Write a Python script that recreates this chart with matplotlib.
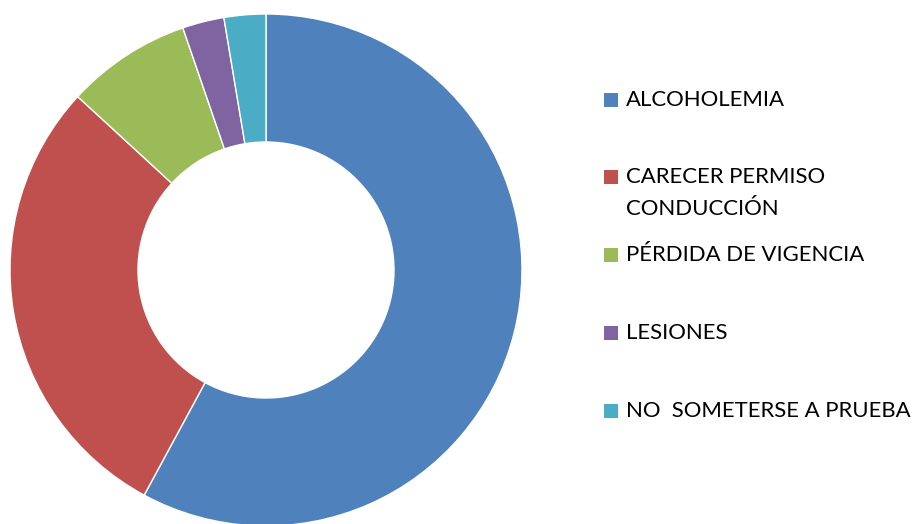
import matplotlib
matplotlib.use('Agg')
import matplotlib.pyplot as plt
from matplotlib.patches import Rectangle

categories = ['ALCOHOLEMIA', 'CARECER PERMISO\nCONDUCCIÓN', 'PÉRDIDA DE VIGENCIA',
              'LESIONES', 'NO  SOMETERSE A PRUEBA']
values = [44, 22, 6, 2, 2]
colors = ['#4F81BD', '#C0504D', '#9BBB59', '#8064A2', '#4BACC6']

plt.rcParams['font.family'] = ['Lato', 'DejaVu Sans']

W, H = 914, 524
fig = plt.figure(figsize=(W / 100, H / 100), dpi=100)

# donut: centre (266, 270) px, outer radius 256 px
cx, cy, r = 266, 270, 256
ax = fig.add_axes([(cx - r) / W, (H - cy - r) / H, 2 * r / W, 2 * r / H])
ax.pie(values, colors=colors, startangle=90, counterclock=False, radius=1,
       wedgeprops=dict(width=0.5, edgecolor='white', linewidth=1))
ax.set_xlim(-1, 1)
ax.set_ylim(-1, 1)
ax.set_aspect('auto')
ax.axis('off')

# legend, placed by hand
legend_y = [100, 177, 255, 333, 411]
for lab, col, y in zip(categories, colors, legend_y):
    fig.patches.append(Rectangle((604 / W, (H - y - 7) / H), 14 / W, 14 / H,
                                 transform=fig.transFigure, facecolor=col,
                                 edgecolor='none'))
    for i, line in enumerate(lab.split('\n')):
        fig.text(626 / W, (H - y - 32 * i) / H, line, fontsize=15.9,
                 va='center', ha='left', color='black')

fig.savefig('out.png', dpi=100)
